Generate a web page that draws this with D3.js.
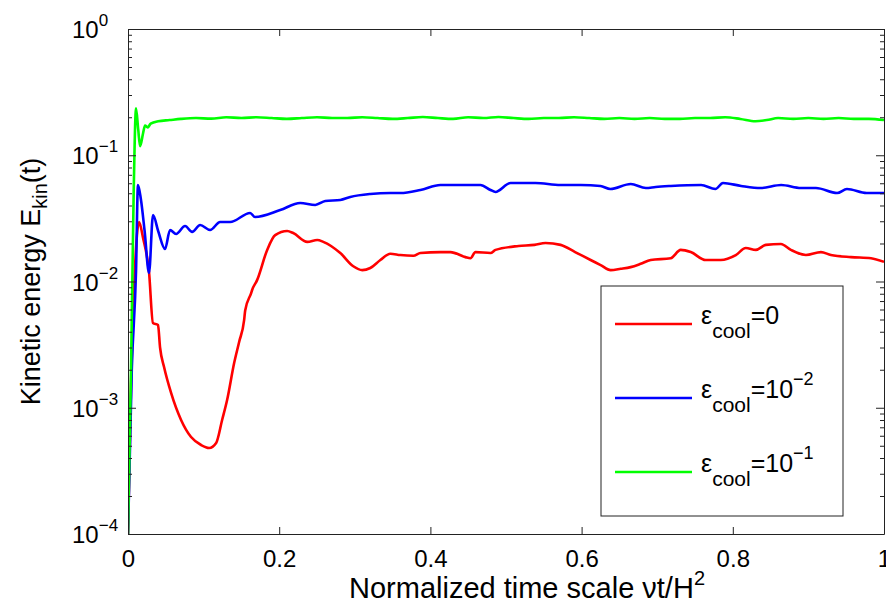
<!DOCTYPE html>
<html>
<head>
<meta charset="utf-8">
<title>Kinetic energy</title>
<style>
	body { margin: 0; background: #fff; }
	text { font-family: 'Liberation Sans', Arial, Helvetica, sans-serif; fill: #000; }
</style>
</head>
<body>

<svg id="svg" width="886" height="610"></svg>

<script src="https://d3js.org/d3.v7.min.js"></script>
<script>
// values: normalized time t and kinetic energy E_kin(t)
const redT = [0, 0.004, 0.009, 0.0146, 0.020, 0.0278, 0.033, 0.0397, 0.0424, 0.0477, 0.057, 0.0702, 0.0834, 0.0967, 0.1073, 0.1166, 0.1245, 0.1311, 0.1404, 0.147, 0.1536, 0.155, 0.1629, 0.1642, 0.1709, 0.1841, 0.1947, 0.2106, 0.2185, 0.2371, 0.2503, 0.2583, 0.2808, 0.298, 0.3099, 0.3205, 0.3338, 0.347, 0.3603, 0.3775, 0.3868, 0.4132, 0.4265, 0.4464, 0.453, 0.4596, 0.4795, 0.4861, 0.5166, 0.5377, 0.5523, 0.5722, 0.5914, 0.6119, 0.6252, 0.6384, 0.6517, 0.6649, 0.6781, 0.6914, 0.7179, 0.7311, 0.7444, 0.7642, 0.7841, 0.804, 0.8172, 0.8305, 0.8437, 0.8636, 0.8768, 0.8967, 0.9166, 0.9298, 0.9563, 0.9828, 1.0]
const redE = [1e-4, 0.0015, 0.012, 0.0296, 0.022, 0.0119, 0.0047, 0.00452, 0.003, 0.0021, 0.00131, 0.0008, 0.000586, 0.000507, 0.00048, 0.000526, 0.0008, 0.00115, 0.00226, 0.00332, 0.00495, 0.0059, 0.0081, 0.00857, 0.0103, 0.0178, 0.0233, 0.0251, 0.0242, 0.0206, 0.0213, 0.0206, 0.0168, 0.0132, 0.0123, 0.0128, 0.0148, 0.0166, 0.0162, 0.016, 0.0168, 0.0171, 0.0171, 0.0156, 0.0153, 0.0171, 0.0168, 0.0178, 0.0191, 0.0195, 0.0202, 0.0195, 0.0171, 0.0148, 0.0135, 0.0123, 0.0126, 0.013, 0.0138, 0.0148, 0.0153, 0.0178, 0.0171, 0.0148, 0.0148, 0.0162, 0.0184, 0.0178, 0.0195, 0.0198, 0.0178, 0.0162, 0.0171, 0.0162, 0.0156, 0.0153, 0.0143]

const blueT = [0, 0.005, 0.0106, 0.0132, 0.017, 0.022, 0.0278, 0.0331, 0.040, 0.049, 0.0556, 0.0636, 0.0755, 0.0848, 0.0954, 0.1086, 0.1219, 0.1351, 0.1616, 0.168, 0.2013, 0.2278, 0.2477, 0.2609, 0.2808, 0.294, 0.3205, 0.347, 0.3603, 0.3868, 0.4132, 0.4397, 0.4662, 0.4795, 0.486, 0.506, 0.539, 0.572, 0.599, 0.625, 0.638, 0.665, 0.685, 0.698, 0.718, 0.758, 0.777, 0.787, 0.811, 0.837, 0.864, 0.89, 0.91, 0.938, 0.951, 0.977, 1.0]
const blueE = [1e-4, 0.002, 0.012, 0.058, 0.045, 0.025, 0.0117, 0.0336, 0.025, 0.0181, 0.0256, 0.0238, 0.0275, 0.0247, 0.028, 0.0256, 0.0296, 0.0296, 0.0349, 0.0324, 0.0368, 0.0419, 0.0404, 0.0434, 0.0442, 0.0467, 0.0493, 0.0502, 0.0502, 0.0531, 0.0581, 0.0581, 0.0581, 0.0531, 0.0512, 0.0603, 0.0603, 0.0581, 0.0581, 0.0571, 0.054, 0.0592, 0.055, 0.0561, 0.0571, 0.0581, 0.054, 0.0603, 0.0571, 0.055, 0.0581, 0.055, 0.055, 0.0502, 0.054, 0.0502, 0.0502]

const greenT = [0, 0.004, 0.0075, 0.0106, 0.0135, 0.016, 0.020, 0.0225, 0.026, 0.030, 0.04, 0.055, 0.07, 0.09, 0.11, 0.13, 0.15, 0.17, 0.19, 0.21, 0.23, 0.25, 0.27, 0.29, 0.31, 0.33, 0.35, 0.37, 0.39, 0.41, 0.43, 0.45, 0.47, 0.49, 0.51, 0.53, 0.55, 0.57, 0.59, 0.61, 0.63, 0.65, 0.67, 0.69, 0.71, 0.73, 0.75, 0.77, 0.79, 0.81, 0.83, 0.845, 0.86, 0.88, 0.90, 0.92, 0.94, 0.96, 0.98, 1.0]
const greenE = [1e-4, 0.002, 0.05, 0.235, 0.16, 0.118, 0.15, 0.172, 0.166, 0.178, 0.186, 0.19, 0.194, 0.197, 0.195, 0.2, 0.197, 0.2, 0.197, 0.194, 0.197, 0.2, 0.197, 0.197, 0.2, 0.197, 0.194, 0.197, 0.201, 0.197, 0.194, 0.2, 0.197, 0.201, 0.197, 0.194, 0.197, 0.197, 0.2, 0.197, 0.194, 0.197, 0.194, 0.197, 0.194, 0.194, 0.197, 0.197, 0.2, 0.194, 0.186, 0.19, 0.197, 0.194, 0.197, 0.194, 0.197, 0.194, 0.194, 0.19]

// tick labels
const xTicks = [0, 0.2, 0.4, 0.6, 0.8, 1]
const xTickLabels = ['0', '0.2', '0.4', '0.6', '0.8', '1']
const yDecades = [-4, -3, -2, -1, 0]

// legend entries: epsilon_cool = value ^ exponent
const legendValues = ['0', '10', '10']
const legendExps = ['', '\u22122', '\u22121']

const series = [
	{ t: redT, e: redE, color: '#ff0000' },
	{ t: blueT, e: blueE, color: '#0000ff' },
	{ t: greenT, e: greenE, color: '#00ff00' }
]

// plot box
const boxLeft = 128, boxRight = 884, boxTop = 29, boxBottom = 534

const svg = d3.select('#svg')

const x = d3.scaleLinear().domain([0, 1]).range([boxLeft, boxRight])
const y = d3.scaleLog().domain([1e-4, 1]).range([boxBottom, boxTop])

// clip the curves to the box
svg.append('clipPath').attr('id', 'clip')
	.append('rect')
	.attr('x', boxLeft).attr('y', boxTop)
	.attr('width', boxRight - boxLeft).attr('height', boxBottom - boxTop)

const line = d3.line()
	.x(d => x(d[0]))
	.y(d => y(d[1]))
	.curve(d3.curveMonotoneX)

svg.append('g')
	.attr('clip-path', 'url(#clip)')
	.selectAll('path')
	.data(series)
	.enter()
	.append('path')
	.attr('d', s => line(s.t.map((t, i) => [t, s.e[i]])))
	.attr('fill', 'none')
	.attr('stroke', s => s.color)
	.attr('stroke-width', 2.6)
	.attr('stroke-linejoin', 'round')

// x axes, ticks pointing inwards (matlab style)
const xBottom = svg.append('g')
	.attr('transform', `translate(0, ${boxBottom})`)
	.call(d3.axisBottom(x).tickValues(xTicks)
		.tickFormat((d, i) => xTickLabels[i])
		.tickSizeInner(-7).tickSizeOuter(0).tickPadding(16))
xBottom.selectAll('text').attr('font-size', 24)
xBottom.attr('font-family', null).attr('font-size', null)

svg.append('g')
	.attr('transform', `translate(0, ${boxTop})`)
	.call(d3.axisTop(x).tickValues(xTicks).tickFormat('')
		.tickSizeInner(-7).tickSizeOuter(0))

// y axes: major ticks at decades, minor ticks in between
const allTicks = y.ticks()
const majorTicks = yDecades.map(p => Math.pow(10, p))
const minorTicks = allTicks.filter(v => !majorTicks.some(m => Math.abs(m - v) / m < 1e-6))

function yAxis(g, axisFn, pos) {
	g.append('g')
		.attr('transform', `translate(${pos}, 0)`)
		.call(axisFn(y).tickValues(majorTicks).tickFormat('').tickSizeInner(-8).tickSizeOuter(0))
	g.append('g')
		.attr('transform', `translate(${pos}, 0)`)
		.call(axisFn(y).tickValues(minorTicks).tickFormat('').tickSizeInner(-4).tickSizeOuter(0))
		.select('.domain').remove()
}
yAxis(svg.append('g'), d3.axisLeft, boxLeft)
yAxis(svg.append('g'), d3.axisRight, boxRight)

svg.selectAll('.domain').attr('stroke', '#222')
svg.selectAll('.tick line').attr('stroke', '#222')

// y tick labels: 10^p
const yLabels = svg.append('g')
	.selectAll('text')
	.data(yDecades)
	.enter()
	.append('text')
	.attr('x', 72)
	.attr('y', p => y(Math.pow(10, p)) + 9)
	.attr('font-size', 24)
yLabels.append('tspan').text('10')
yLabels.append('tspan')
	.attr('font-size', 17)
	.attr('dy', -12)
	.text(p => p < 0 ? '\u2212' + (-p) : String(p))

// axis titles
const xTitle = svg.append('text')
	.attr('x', 527)
	.attr('y', 598)
	.attr('text-anchor', 'middle')
	.attr('font-size', 29)
xTitle.append('tspan').text('Normalized time scale \u03bdt/H')
xTitle.append('tspan').attr('font-size', 20).attr('dy', -13).text('2')

const yTitle = svg.append('text')
	.attr('transform', `translate(40, ${(boxTop + boxBottom) / 2}) rotate(-90)`)
	.attr('text-anchor', 'middle')
	.attr('font-size', 27)
yTitle.append('tspan').text('Kinetic energy E')
yTitle.append('tspan').attr('font-size', 20).attr('dy', 7).text('kin')
yTitle.append('tspan').attr('dy', -7).text('(t)')

// legend
const legend = svg.append('g')
legend.append('rect')
	.attr('x', 601).attr('y', 286)
	.attr('width', 242).attr('height', 230)
	.attr('fill', '#fff')
	.attr('stroke', '#222')
	.attr('stroke-width', 1)

const entries = legend.selectAll('g.entry')
	.data(series)
	.enter()
	.append('g')
	.attr('class', 'entry')
	.attr('transform', (d, i) => `translate(0, ${324 + i * 74})`)

entries.append('line')
	.attr('x1', 615).attr('x2', 692)
	.attr('stroke', d => d.color)
	.attr('stroke-width', 2.6)

const labels = entries.append('text')
	.attr('x', 701)
	.attr('y', 0)
	.attr('font-size', 25)
labels.append('tspan').text('\u03b5')
labels.append('tspan').attr('font-size', 21).attr('dy', 14).text('cool')
labels.append('tspan').attr('dy', -14).text((d, i) => '=' + legendValues[i])
labels.append('tspan').attr('font-size', 18).attr('dy', -13).text((d, i) => legendExps[i])
</script>
</body>
</html>
